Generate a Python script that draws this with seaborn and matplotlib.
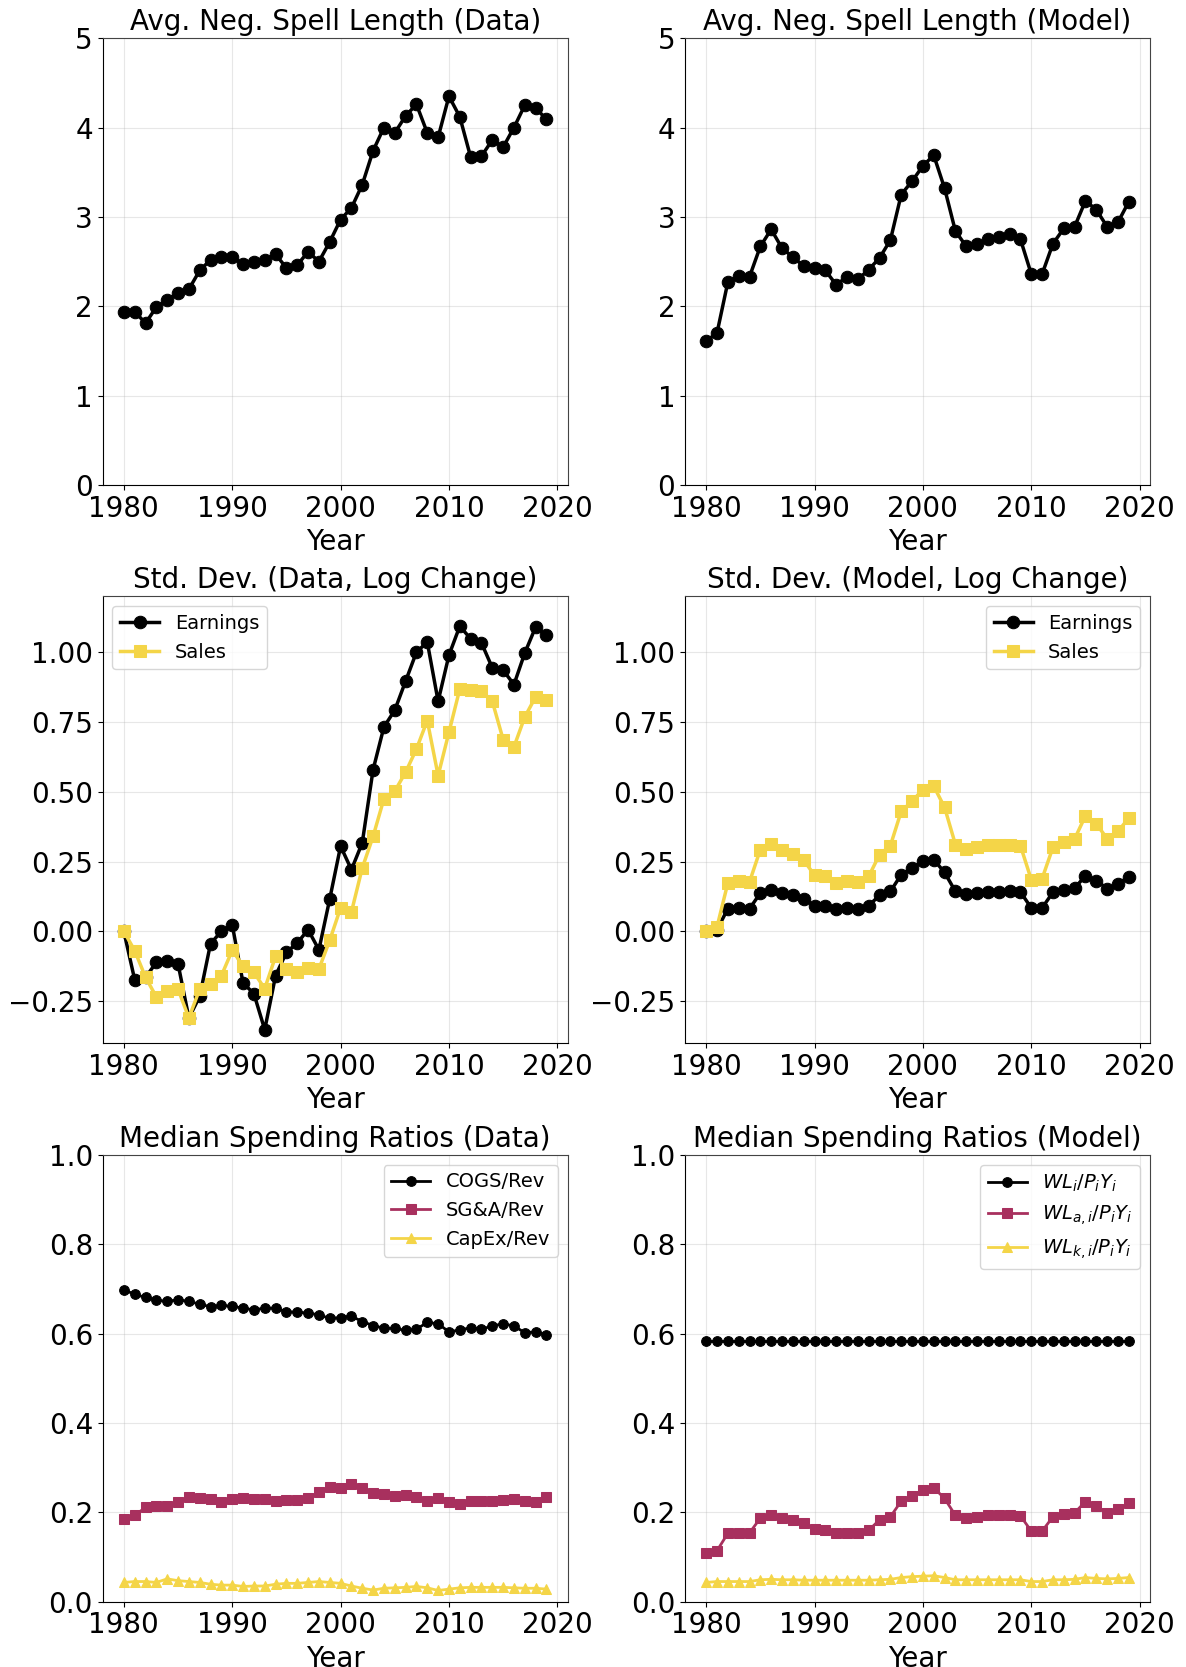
import matplotlib
matplotlib.use("Agg")
import matplotlib.pyplot as plt
import seaborn as sns

years = list(range(1980, 2020))

spell_data = [1.93, 1.94, 1.81, 1.99, 2.07, 2.15, 2.19, 2.40, 2.52, 2.55,
              2.55, 2.47, 2.50, 2.52, 2.58, 2.43, 2.46, 2.61, 2.50, 2.72,
              2.97, 3.10, 3.36, 3.74, 4.00, 3.94, 4.13, 4.26, 3.94, 3.89,
              4.35, 4.12, 3.67, 3.68, 3.86, 3.78, 4.00, 4.25, 4.22, 4.09]
spell_model = [1.61, 1.70, 2.27, 2.34, 2.33, 2.67, 2.86, 2.65, 2.55, 2.45,
               2.43, 2.40, 2.24, 2.33, 2.30, 2.41, 2.54, 2.74, 3.25, 3.40,
               3.57, 3.69, 3.32, 2.84, 2.67, 2.70, 2.75, 2.78, 2.81, 2.75,
               2.36, 2.36, 2.70, 2.87, 2.89, 3.18, 3.08, 2.89, 2.94, 3.17]

sd_earn_data = [0.00, -0.173, -0.165, -0.111, -0.105, -0.116, -0.31, -0.233, -0.044, 0.00,
                0.024, -0.185, -0.223, -0.352, -0.159, -0.075, -0.042, 0.006, -0.066, 0.116,
                0.305, 0.221, 0.317, 0.579, 0.732, 0.792, 0.896, 1.00, 1.036, 0.824,
                0.989, 1.093, 1.048, 1.033, 0.944, 0.935, 0.884, 0.997, 1.09, 1.06]
sd_sales_data = [0.00, -0.069, -0.164, -0.235, -0.215, -0.207, -0.31, -0.207, -0.189, -0.159,
                 -0.068, -0.123, -0.147, -0.205, -0.09, -0.135, -0.147, -0.131, -0.135, -0.032,
                 0.084, 0.069, 0.227, 0.340, 0.475, 0.502, 0.570, 0.653, 0.755, 0.558,
                 0.713, 0.868, 0.866, 0.860, 0.824, 0.687, 0.661, 0.768, 0.840, 0.830]
sd_earn_model = [0.00, 0.006, 0.081, 0.084, 0.081, 0.137, 0.149, 0.137, 0.131, 0.117,
                 0.092, 0.090, 0.080, 0.084, 0.081, 0.092, 0.129, 0.143, 0.203, 0.227,
                 0.251, 0.257, 0.211, 0.143, 0.135, 0.137, 0.141, 0.141, 0.143, 0.141,
                 0.084, 0.084, 0.140, 0.149, 0.155, 0.199, 0.182, 0.153, 0.170, 0.195]
sd_sales_model = [0.00, 0.016, 0.173, 0.179, 0.177, 0.293, 0.314, 0.293, 0.277, 0.255,
                  0.201, 0.197, 0.173, 0.182, 0.177, 0.197, 0.275, 0.307, 0.430, 0.466,
                  0.508, 0.520, 0.444, 0.311, 0.295, 0.302, 0.308, 0.308, 0.308, 0.307,
                  0.185, 0.189, 0.301, 0.320, 0.331, 0.414, 0.385, 0.332, 0.358, 0.406]

cogs = [0.698, 0.688, 0.681, 0.675, 0.672, 0.676, 0.672, 0.666, 0.660, 0.663,
        0.661, 0.657, 0.653, 0.657, 0.657, 0.649, 0.648, 0.646, 0.642, 0.634,
        0.636, 0.639, 0.627, 0.618, 0.612, 0.612, 0.607, 0.610, 0.625, 0.622,
        0.604, 0.608, 0.613, 0.610, 0.617, 0.622, 0.617, 0.602, 0.604, 0.597]
sga = [0.184, 0.193, 0.211, 0.215, 0.214, 0.224, 0.234, 0.231, 0.229, 0.222,
       0.229, 0.231, 0.230, 0.230, 0.226, 0.228, 0.228, 0.231, 0.246, 0.257,
       0.255, 0.263, 0.254, 0.244, 0.240, 0.237, 0.239, 0.234, 0.225, 0.231,
       0.224, 0.219, 0.226, 0.226, 0.225, 0.228, 0.229, 0.225, 0.224, 0.235]
capex = [0.043, 0.045, 0.045, 0.043, 0.051, 0.047, 0.045, 0.043, 0.039, 0.037,
         0.037, 0.034, 0.035, 0.035, 0.039, 0.041, 0.041, 0.043, 0.045, 0.043,
         0.041, 0.035, 0.030, 0.026, 0.030, 0.031, 0.032, 0.034, 0.031, 0.025,
         0.028, 0.031, 0.032, 0.032, 0.032, 0.032, 0.031, 0.030, 0.030, 0.028]

wl = [0.584] * 40
wl_a = [0.110, 0.114, 0.153, 0.154, 0.154, 0.187, 0.194, 0.187, 0.183, 0.175,
        0.162, 0.160, 0.153, 0.154, 0.153, 0.160, 0.183, 0.190, 0.225, 0.237,
        0.250, 0.255, 0.231, 0.193, 0.188, 0.190, 0.193, 0.193, 0.193, 0.192,
        0.158, 0.158, 0.190, 0.196, 0.199, 0.224, 0.214, 0.199, 0.207, 0.220]
wl_k = [0.043, 0.045, 0.045, 0.045, 0.045, 0.049, 0.050, 0.049, 0.049, 0.048,
        0.048, 0.048, 0.048, 0.048, 0.048, 0.048, 0.049, 0.050, 0.054, 0.056,
        0.057, 0.058, 0.054, 0.049, 0.049, 0.049, 0.049, 0.049, 0.049, 0.049,
        0.045, 0.045, 0.049, 0.049, 0.050, 0.054, 0.052, 0.051, 0.052, 0.054]

BLACK = "black"
YELLOW = "#F4D548"
MAGENTA = "#A8305E"

plt.rcParams['font.family'] = ['DejaVu Sans']

fig = plt.figure(figsize=(11.86, 16.67), dpi=100)
lefts = [0.0866, 0.5776]
bottoms = [0.7091, 0.3743, 0.0392]
w, h = 0.392, 0.268
axes = [[fig.add_axes([l, b, w, h]) for l in lefts] for b in bottoms]


def draw(ax, y, color, marker, label=None, lw=2.5, ms=9):
    sns.lineplot(x=years, y=y, ax=ax, color=color, marker=marker, linewidth=lw,
                 markersize=ms, markeredgecolor=color, label=label, legend=bool(label))


def style(ax, title, ylim):
    ax.set_title(title, fontsize=20)
    ax.set_xlabel("Year", fontsize=20)
    ax.set_ylabel("")
    ax.set_ylim(*ylim)
    ax.set_xticks([1980, 1990, 2000, 2010, 2020])
    ax.tick_params(labelsize=20)
    ax.grid(True, alpha=0.3)
    for s in ["top", "right"]:
        ax.spines[s].set_color("#444444")


# row 1: spell length
draw(axes[0][0], spell_data, BLACK, "o")
style(axes[0][0], "Avg. Neg. Spell Length (Data)", (0, 5))
draw(axes[0][1], spell_model, BLACK, "o")
style(axes[0][1], "Avg. Neg. Spell Length (Model)", (0, 5))

# row 2: std dev
for ax, e, s, title, loc in [
        (axes[1][0], sd_earn_data, sd_sales_data, "Std. Dev. (Data, Log Change)", "upper left"),
        (axes[1][1], sd_earn_model, sd_sales_model, "Std. Dev. (Model, Log Change)", "upper right")]:
    draw(ax, e, BLACK, "o", "Earnings")
    draw(ax, s, YELLOW, "s", "Sales")
    style(ax, title, (-0.4, 1.2))
    ax.set_yticks([-0.25, 0.0, 0.25, 0.5, 0.75, 1.0])
    ax.legend(loc=loc, fontsize=14)

# row 3: spending ratios
ax = axes[2][0]
draw(ax, cogs, BLACK, "o", "COGS/Rev", lw=2, ms=7)
draw(ax, sga, MAGENTA, "s", "SG&A/Rev", lw=2, ms=7)
draw(ax, capex, YELLOW, "^", "CapEx/Rev", lw=2, ms=7)
style(ax, "Median Spending Ratios (Data)", (0, 1))
ax.legend(loc="upper right", fontsize=14)

ax = axes[2][1]
draw(ax, wl, BLACK, "o", r"$WL_i/P_iY_i$", lw=2, ms=7)
draw(ax, wl_a, MAGENTA, "s", r"$WL_{a,i}/P_iY_i$", lw=2, ms=7)
draw(ax, wl_k, YELLOW, "^", r"$WL_{k,i}/P_iY_i$", lw=2, ms=7)
style(ax, "Median Spending Ratios (Model)", (0, 1))
ax.legend(loc="upper right", fontsize=14)

fig.savefig("out.png", dpi=100)
